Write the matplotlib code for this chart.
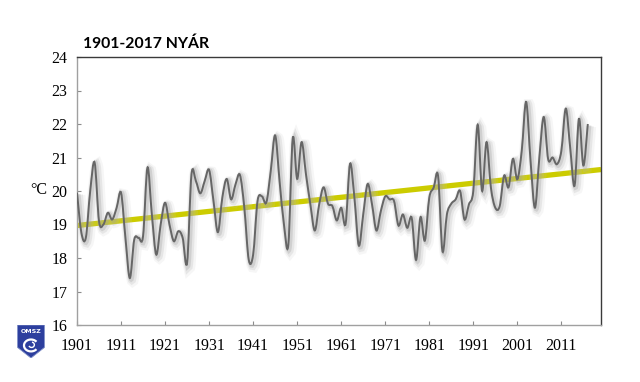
import numpy as np
import matplotlib
matplotlib.use("Agg")
import matplotlib.pyplot as plt
import matplotlib.patheffects as pe
from matplotlib.path import Path
from matplotlib.patches import PathPatch, Polygon, Arc

# summer mean temperature, Hungary
years = list(range(1901, 2018))
temps = [
    19.95, 18.75, 18.60, 20.00, 20.85, 19.10, 19.00, 19.35, 19.15, 19.50,
    19.95, 18.60, 17.40, 18.55, 18.60, 18.65, 20.70, 19.30, 18.10, 19.00,
    19.65, 19.00, 18.50, 18.80, 18.60, 17.85, 20.50, 20.30, 19.93, 20.30,
    20.63, 19.70, 18.77, 19.80, 20.36, 19.75, 20.20, 20.48, 19.50, 17.95,
    18.10, 19.70, 19.84, 19.66, 20.60, 21.66, 20.30, 19.00, 18.40, 21.58,
    20.36, 21.46, 20.50, 19.60, 18.82, 19.60, 20.11, 19.62, 19.55, 19.12,
    19.50, 19.02, 20.81, 19.80, 18.37, 19.30, 20.21, 19.60, 18.82, 19.40,
    19.84, 19.75, 19.70, 18.97, 19.30, 18.90, 19.20, 17.94, 19.22, 18.52,
    19.80, 20.10, 20.45, 18.20, 19.30, 19.62, 19.75, 20.00, 19.15, 19.60,
    20.00, 21.98, 20.00, 21.46, 20.10, 19.50, 19.55, 20.46, 20.11, 20.96,
    20.35, 21.20, 22.66, 20.90, 19.50, 21.00, 22.21, 20.95, 21.00, 20.80,
    21.20, 22.46, 21.30, 20.16, 22.16, 20.76, 22.00,
]

# linear trend, 1901-2020
trend_years = [1901, 2020]
trend_vals = [18.97, 20.64]

xtick_years = list(range(1901, 2021, 10))
ytick_vals = list(range(16, 25))
title = "1901-2017 NYÁR"


def smooth_path(xs, ys):
    # Excel-like smoothed line: Catmull-Rom turned into cubic Bezier pieces
    x = np.asarray(xs, float)
    y = np.asarray(ys, float)
    px = np.concatenate([[x[0]], x, [x[-1]]])
    py = np.concatenate([[y[0]], y, [y[-1]]])
    verts = [(x[0], y[0])]
    codes = [Path.MOVETO]
    for i in range(1, len(px) - 2):
        c1 = (px[i] + (px[i + 1] - px[i - 1]) / 6, py[i] + (py[i + 1] - py[i - 1]) / 6)
        c2 = (px[i + 1] - (px[i + 2] - px[i]) / 6, py[i + 1] - (py[i + 2] - py[i]) / 6)
        verts += [c1, c2, (px[i + 1], py[i + 1])]
        codes += [Path.CURVE4] * 3
    return Path(verts, codes)


fig = plt.figure(figsize=(6.4, 3.82), dpi=100)
ax = fig.add_axes([77 / 640, 1 - 325 / 382, 524 / 640, 268 / 382])

ax.set_xlim(1901, 2020)
ax.set_ylim(16, 24)

# trend line (under the data curve)
ax.plot(trend_years, trend_vals, color="#cccc00", lw=3.8, solid_capstyle="butt", zorder=2)

curve = PathPatch(smooth_path(years, temps), fill=False, edgecolor="#666666", lw=1.4, zorder=3)
curve.set_path_effects([
    pe.Stroke(offset=(2.0, -2.0), linewidth=8, foreground="#c4c4c4", alpha=0.15),
    pe.Stroke(offset=(1.5, -1.5), linewidth=5.5, foreground="#b0b0b0", alpha=0.22),
    pe.Stroke(offset=(1.0, -1.0), linewidth=3.2, foreground="#a0a0a0", alpha=0.3),
    pe.Normal(),
])
ax.add_patch(curve)

ax.set_xticks(xtick_years)
ax.set_yticks(ytick_vals)
ax.tick_params(direction="in", length=3, color="#8c8c8c", width=0.8,
               labelfontfamily="Liberation Serif", labelsize=11.5)
ax.tick_params(axis="y", pad=7)
ax.tick_params(axis="x", pad=9)

ax.spines["left"].set_color("#a0a0a0")
ax.spines["bottom"].set_color("#a0a0a0")
ax.spines["top"].set_color("#3a3a3a")
ax.spines["right"].set_color("#3a3a3a")
for s in ax.spines.values():
    s.set_linewidth(1.0)

fig.text(83 / 640, 1 - 48 / 382, title, fontfamily="Lato", fontweight="bold",
         fontsize=11.3, va="baseline", ha="left")
fig.text(39 / 640, 1 - 190 / 382, "°C", fontfamily="Liberation Serif",
         fontsize=11.5, va="center", ha="center")

# OMSZ logo, bottom left
lax = fig.add_axes([17 / 640, 1 - 358 / 382, 28 / 640, 33 / 382])
lax.set_xlim(0, 1)
lax.set_ylim(0, 1)
lax.axis("off")
lax.add_patch(Polygon([(0.02, 1.0), (0.98, 1.0), (0.98, 0.32), (0.5, 0.0), (0.02, 0.32)],
                      closed=True, facecolor="#2d3f9e", edgecolor="#8090c8", lw=0.6))
lax.text(0.5, 0.8, "OMSZ", color="white", fontsize=4.5, fontweight="bold",
         ha="center", va="center", fontfamily="DejaVu Sans")
lax.add_patch(Arc((0.5, 0.38), 0.5, 0.36, theta1=30, theta2=330, color="white", lw=1.6))
lax.add_patch(Arc((0.52, 0.4), 0.2, 0.16, theta1=200, theta2=80, color="white", lw=1.0))

fig.savefig("out.png", dpi=100, facecolor="white")
